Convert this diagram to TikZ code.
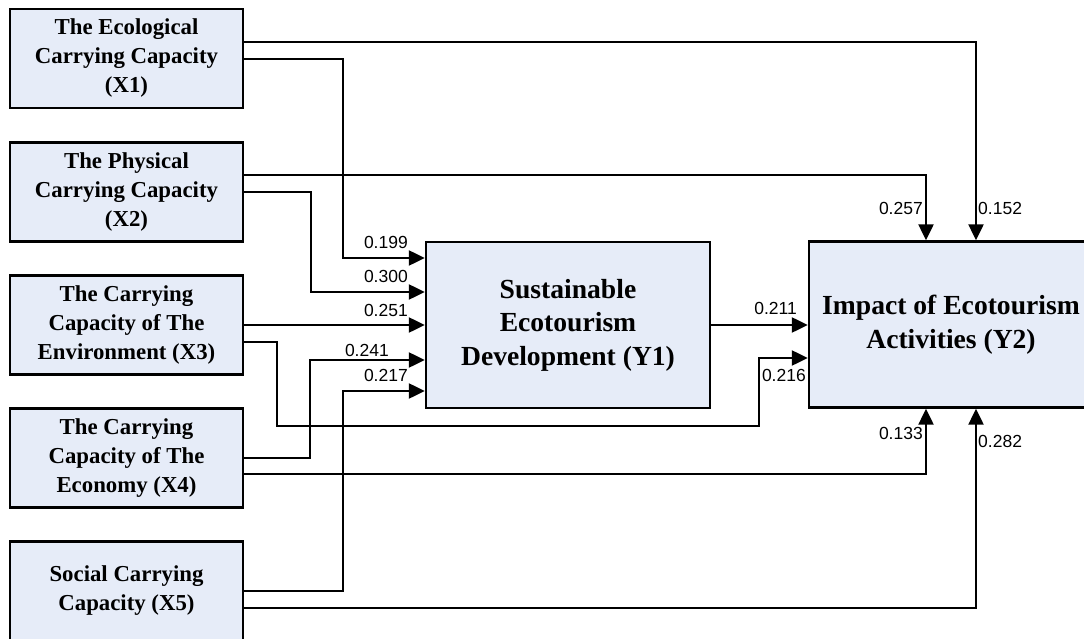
\documentclass[tikz,border=0pt]{standalone}
\usepackage{fontspec}
\setmainfont{Liberation Serif}
\newfontfamily\labfont{Liberation Sans}
\usetikzlibrary{arrows.meta}
\definecolor{boxfill}{HTML}{E6ECF8}
\tikzset{
	xbox/.style={draw, line width=2.4pt, fill=boxfill, minimum width=233pt, minimum height=99pt, align=center,
		font=\fontsize{22.8}{29}\selectfont\bfseries},
	ybox/.style={draw, line width=2.4pt, fill=boxfill, minimum width=284pt, minimum height=166pt, align=center,
		font=\fontsize{27.6}{33.5}\selectfont\bfseries},
	link/.style={line width=2.3pt, -{Triangle[length=16pt, width=15pt]}},
	coef/.style={font=\labfont\fontsize{17.5}{20}\selectfont, inner sep=0pt},
}
\begin{document}
\begin{tikzpicture}[x=1pt, y=-1pt]
	\useasboundingbox (0,0) rectangle (1084,639);
	\clip (0,0) rectangle (1084,639);

	% constructs
	\node[xbox] (x1) at (126.5, 58.5) {The Ecological\\Carrying Capacity\\(X1)};
	\node[xbox] (x2) at (126.5, 192) {The Physical\\Carrying Capacity\\(X2)};
	\node[xbox] (x3) at (126.5, 325) {The Carrying\\Capacity of The\\Environment (X3)};
	\node[xbox] (x4) at (126.5, 458) {The Carrying\\Capacity of The\\Economy (X4)};
	\node[xbox] (x5) at (126.5, 591) {Social Carrying\\Capacity (X5)};
	\node[ybox] (y1) at (568, 325) {Sustainable\\Ecotourism\\Development (Y1)};
	\node[ybox] (y2) at (951, 324.5) {Impact of Ecotourism\\Activities (Y2)};

	% paths to Y1
	\draw[link] (x1.east |- 0,59) -- (343,59) |- (y1.west |- 0,258);
	\draw[link] (x2.east |- 0,192) -- (311,192) |- (y1.west |- 0,292);
	\draw[link] (x3.east |- 0,325) -- (y1.west |- 0,325);
	\draw[link] (x4.east |- 0,458) -- (310,458) |- (y1.west |- 0,360);
	\draw[link] (x5.east |- 0,591) -- (343,591) |- (y1.west |- 0,391);

	% paths to Y2
	\draw[link] (x1.east |- 0,42) -| ([xshift=25pt]y2.north);
	\draw[link] (x2.east |- 0,175) -| ([xshift=-25pt]y2.north);
	\draw[link] (x3.east |- 0,342) -- (277,342) |- (759,426) |- (y2.west |- 0,358);
	\draw[link] (x4.east |- 0,474) -| ([xshift=-25pt]y2.south);
	\draw[link] (x5.east |- 0,608) -| ([xshift=25pt]y2.south);
	\draw[link] (y1.east) -- (y2.west |- y1.east);

	% coefficients
	\node[coef, anchor=east] (c1) at (408,242) {0.199};
	\node[coef, anchor=east] (c2) at (408,276) {0.300};
	\node[coef, anchor=east] (c3) at (408,310) {0.251};
	\node[coef, anchor=east] (c4) at (389,350) {0.241};
	\node[coef, anchor=east] (c5) at (408,375) {0.217};
	\node[coef, anchor=east] (c6) at (797,308) {0.211};
	\node[coef, anchor=east] (c7) at (806,375) {0.216};
	\node[coef, anchor=east] (c8) at (923,208) {0.257};
	\node[coef, anchor=west] (c9) at (978,208) {0.152};
	\node[coef, anchor=east] (c10) at (923,433) {0.133};
	\node[coef, anchor=west] (c11) at (978,441) {0.282};
\end{tikzpicture}
\end{document}
